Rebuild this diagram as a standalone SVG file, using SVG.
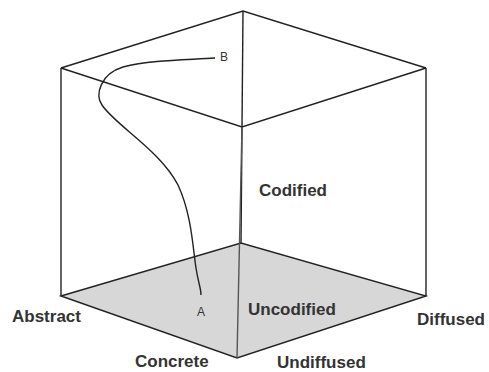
<svg xmlns="http://www.w3.org/2000/svg" width="489" height="372" viewBox="0 0 489 372">
<style>
.e{fill:none;stroke:#222;stroke-width:1.4;stroke-linejoin:miter}
.lbl{font-family:"Liberation Sans",Arial,sans-serif;font-weight:bold;font-size:17px;fill:#333}
.pt{font-family:"Liberation Sans",Arial,sans-serif;font-size:12px;fill:#333}
</style>
<rect width="489" height="372" fill="#fff"/>
<g id="floor">
<polygon points="61,296 241,243 426,296 237,358" fill="#d7d7d7" stroke="#222" stroke-width="1.4"/>
</g>
<g id="cube">
<polyline class="e" points="61,68 243,11 426,68"/>
<polyline class="e" points="61,68 242,127 426,68"/>
<line class="e" x1="243" y1="11" x2="241" y2="243"/>
<line class="e" x1="61" y1="68" x2="61" y2="296"/>
<line class="e" x1="426" y1="68" x2="426" y2="296"/>
<line x1="242" y1="127" x2="237" y2="358" stroke="#555" stroke-width="1.4"/>
</g>
<g id="connectors">
<path class="e" d="M215,58 C185,60 150,60 123,67 C100,74 95,95 102,105 C115,125 160,150 178,185 C192,215 193,250 196,268 C198,282 201,288 201,295"/>
</g>
<g id="labels">
<text class="pt" x="220" y="61">B</text>
<text class="pt" x="197" y="316">A</text>
<text class="lbl" x="259" y="196">Codified</text>
<text class="lbl" x="248" y="315">Uncodified</text>
<text class="lbl" x="12" y="322">Abstract</text>
<text class="lbl" x="135" y="367">Concrete</text>
<text class="lbl" x="277" y="368">Undiffused</text>
<text class="lbl" x="417" y="325">Diffused</text>
</g>
</svg>
